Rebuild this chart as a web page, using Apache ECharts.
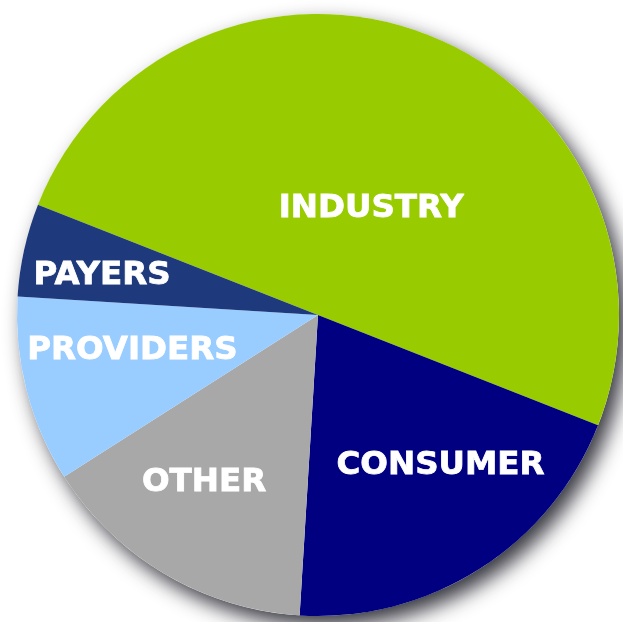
<!DOCTYPE html>
<html>
<head>
<meta charset="utf-8">
<script src="https://cdn.jsdelivr.net/npm/echarts@6/dist/echarts.min.js"></script>
<style>
  html, body { margin: 0; padding: 0; background: #fff; }
  #chart { width: 623px; height: 622px; }
</style>
</head>
<body>
<div id="chart"></div>
<script>
// slice order is clockwise starting at INDUSTRY
const categories = ['INDUSTRY', 'CONSUMER', 'OTHER', 'PROVIDERS', 'PAYERS']
const shares = [50, 20, 15, 10, 5]
const colors = ['#99cc00', '#000080', '#a8a8a8', '#99ccff', '#1f3a7c']

// nudges of each label away from the default "inside" spot
const labelShift = {
  INDUSTRY: [-3, 36],
  CONSUMER: [40, 21],
  OTHER: [-36, 35],
  PROVIDERS: [-37, -3],
  PAYERS: [-66, -6],
}

const center = [318, 315]
const radius = 301

const chart = echarts.init(document.getElementById('chart'))

chart.setOption({
  animation: false,
  series: [
    {
      // drop shadow behind the whole disc
      type: 'pie',
      silent: true,
      z: 1,
      center,
      radius,
      label: { show: false },
      labelLine: { show: false },
      itemStyle: {
        color: '#ffffff',
        shadowColor: 'rgba(20, 20, 30, 0.85)',
        shadowBlur: 20,
        shadowOffsetX: 8,
        shadowOffsetY: 10,
      },
      data: [{ value: 1, name: '' }],
    },
    {
      type: 'pie',
      z: 2,
      center,
      radius,
      startAngle: 158.5,
      clockwise: true,
      emphasis: { disabled: true },
      itemStyle: { borderWidth: 0 },
      label: {
        show: true,
        position: 'inside',
        color: '#ffffff',
        fontFamily: 'DejaVu Sans',
        fontWeight: 'bold',
        fontSize: 32.5,
        textBorderColor: '#ffffff',
        textBorderWidth: 0.8,
        formatter: '{b}',
      },
      labelLine: { show: false },
      labelLayout: (p) => {
        const s = labelShift[p.text] || [0, 0]
        return { dx: s[0], dy: s[1] }
      },
      data: categories.map((name, i) => ({
        name,
        value: shares[i],
        itemStyle: { color: colors[i] },
      })),
    },
  ],
})
</script>
</body>
</html>
